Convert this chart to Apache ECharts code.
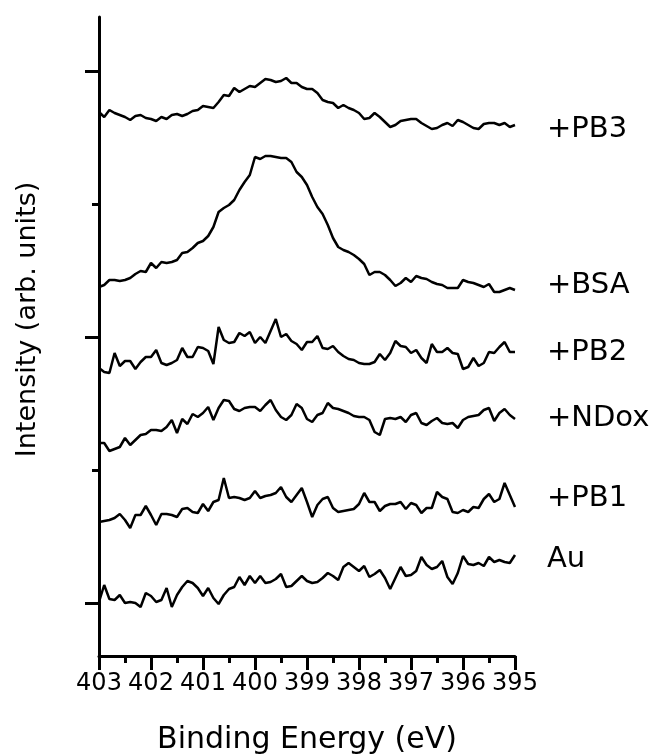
<!DOCTYPE html>
<html>
<head>
<meta charset="utf-8">
<title>N 1s spectra</title>
<script src="https://cdn.jsdelivr.net/npm/echarts@6/dist/echarts.min.js"></script>
<style>
  html, body { margin: 0; padding: 0; background: #fff; }
  #chart { width: 656px; height: 756px; }
</style>
</head>
<body>
<div id="chart"></div>
<script>
// binding energy grid (eV), 0.1 eV step, high -> low
const energy = [
  403.0, 402.9, 402.8, 402.7, 402.6, 402.5, 402.4, 402.3, 402.2, 402.1,
  402.0, 401.9, 401.8, 401.7, 401.6, 401.5, 401.4, 401.3, 401.2, 401.1,
  401.0, 400.9, 400.8, 400.7, 400.6, 400.5, 400.4, 400.3, 400.2, 400.1,
  400.0, 399.9, 399.8, 399.7, 399.6, 399.5, 399.4, 399.3, 399.2, 399.1,
  399.0, 398.9, 398.8, 398.7, 398.6, 398.5, 398.4, 398.3, 398.2, 398.1,
  398.0, 397.9, 397.8, 397.7, 397.6, 397.5, 397.4, 397.3, 397.2, 397.1,
  397.0, 396.9, 396.8, 396.7, 396.6, 396.5, 396.4, 396.3, 396.2, 396.1,
  396.0, 395.9, 395.8, 395.7, 395.6, 395.5, 395.4, 395.3, 395.2, 395.1,
  395.0
];

// intensities (arb. units, already offset as stacked in the figure)
const pb3 = [
  491, 486, 493, 490, 488, 486, 483, 487, 488, 485,
  484, 482, 486, 484, 488, 489, 487, 489, 492, 493,
  497, 496, 495, 501, 508, 507, 515, 511, 514, 517,
  516, 520, 524, 523, 521, 522, 525, 520, 520, 516,
  514, 514, 510, 503, 501, 500, 495, 498, 495, 493,
  490, 484, 485, 490, 486, 481, 476, 478, 482, 483,
  484, 484, 480, 477, 474, 475, 478, 480, 477, 483,
  481, 478, 475, 474, 479, 480, 480, 478, 480, 476,
  478
];
const bsa = [
  316, 318, 323, 323, 322, 323, 325, 329, 332, 331,
  340, 335, 341, 340, 341, 343, 350, 351, 355, 360,
  362, 367, 376, 391, 395, 398, 403, 413, 421, 428,
  446, 444, 447, 447, 446, 445, 445, 441, 431, 426,
  418, 406, 396, 389, 378, 365, 356, 353, 351, 348,
  344, 339, 328, 331, 331, 328, 323, 317, 320, 325,
  321, 327, 325, 324, 321, 319, 318, 315, 315, 315,
  323, 321, 320, 318, 316, 319, 311, 311, 313, 315,
  313
];
const pb2 = [
  235, 231, 230, 250, 237, 242, 242, 234, 241, 246,
  246, 253, 240, 238, 240, 243, 255, 246, 246, 256,
  255, 252, 239, 276, 263, 260, 261, 270, 267, 271,
  260, 266, 260, 272, 284, 266, 269, 262, 259, 253,
  261, 261, 267, 255, 254, 257, 251, 247, 244, 243,
  240, 239, 239, 241, 249, 243, 250, 262, 257, 256,
  250, 253, 245, 240, 259, 251, 251, 255, 250, 249,
  234, 236, 245, 237, 240, 251, 250, 256, 261, 251,
  251
];
const ndox = [
  160, 160, 152, 154, 156, 165, 158, 163, 168, 169,
  173, 173, 172, 176, 183, 170, 184, 179, 189, 186,
  190, 196, 183, 195, 203, 202, 194, 192, 195, 196,
  196, 192, 198, 203, 193, 186, 183, 188, 199, 195,
  184, 181, 188, 190, 200, 195, 194, 192, 190, 187,
  186, 186, 183, 171, 168, 184, 185, 184, 186, 181,
  188, 190, 180, 178, 182, 185, 180, 179, 180, 175,
  183, 186, 187, 188, 193, 195, 182, 190, 194, 188,
  184
];
const pb1 = [
  81, 82, 83, 85, 89, 83, 75, 88, 88, 97,
  88, 78, 89, 89, 88, 86, 94, 95, 91, 90,
  99, 92, 101, 103, 125, 105, 106, 105, 103, 105,
  112, 105, 107, 108, 110, 116, 106, 101, 108, 115,
  101, 86, 98, 104, 106, 95, 91, 92, 93, 94,
  99, 110, 101, 101, 92, 97, 99, 99, 101, 94,
  100, 98, 90, 95, 95, 111, 106, 104, 91, 90,
  93, 91, 96, 95, 104, 109, 101, 104, 120, 108,
  96
];
const au = [
  1, 18, 4, 3, 8, 0, 1, 0, -4, 10,
  7, 1, 3, 15, -4, 8, 16, 22, 20, 15,
  7, 15, 5, -1, 8, 14, 16, 26, 18, 27,
  20, 27, 20, 21, 24, 29, 16, 17, 22, 27,
  22, 20, 21, 25, 30, 27, 23, 36, 40, 36,
  32, 37, 26, 29, 33, 25, 14, 25, 36, 27,
  28, 32, 46, 38, 34, 36, 42, 26, 19, 30,
  47, 39, 38, 40, 37, 46, 41, 43, 41, 40,
  48
];

const sampleNames = ["+PB3", "+BSA", "+PB2", "+NDox", "+PB1", "Au"];
const sampleData = [pb3, bsa, pb2, ndox, pb1, au];
// vertical nudge of each trace label relative to the trace end
const labelShift = [4, -5, 0, -1, -9, 4];

const xTicks = { min: 395, max: 403, step: 1 };
const yMajorTicks = [0, 266, 532];
const yMinorTicks = [133, 399];
const yRange = [-53, 586];

const FONT = "DejaVu Sans";

const chart = echarts.init(document.getElementById("chart"), null, { renderer: "canvas" });

const series = sampleNames.map((name, i) => ({
  name: name,
  type: "line",
  yAxisIndex: 0,
  showSymbol: false,
  animation: false,
  lineStyle: { color: "#000", width: 2.5 },
  data: energy.map((e, j) => [e, sampleData[i][j]]),
  endLabel: {
    show: true,
    formatter: name,
    distance: 0,
    align: "left",
    verticalAlign: "middle",
    offset: [32, labelShift[i]],
    color: "#000",
    fontFamily: FONT,
    fontSize: 29
  }
}));

chart.setOption({
  backgroundColor: "#fff",
  animation: false,
  grid: { left: 99, right: 141, top: 17, bottom: 100, outerBoundsMode: "none", containLabel: false },
  xAxis: {
    type: "value",
    inverse: true,
    min: xTicks.min,
    max: xTicks.max,
    interval: xTicks.step,
    name: "Binding Energy (eV)",
    nameLocation: "middle",
    nameGap: 69,
    nameTextStyle: { color: "#000", fontFamily: FONT, fontSize: 30 },
    axisLine: { show: true, onZero: false, lineStyle: { color: "#000", width: 3 } },
    axisTick: { show: true, inside: false, length: 14, lineStyle: { color: "#000", width: 3 } },
    minorTick: { show: true, splitNumber: 2, length: 7, lineStyle: { color: "#000", width: 3 } },
    axisLabel: { color: "#000", fontFamily: FONT, fontSize: 24, margin: 16 },
    splitLine: { show: false }
  },
  yAxis: [
    {
      type: "value",
      min: yRange[0],
      max: yRange[1],
      name: "Intensity (arb. units)",
      nameLocation: "middle",
      nameGap: 58,
      nameTextStyle: { color: "#000", fontFamily: FONT, fontSize: 27, padding: [0, 0, 0, 34] },
      axisLine: { show: true, onZero: false, lineStyle: { color: "#000", width: 3 } },
      axisTick: { show: true, inside: false, length: 14, customValues: yMajorTicks, lineStyle: { color: "#000", width: 3 } },
      axisLabel: { show: false },
      splitLine: { show: false }
    },
    {
      type: "value",
      position: "left",
      min: yRange[0],
      max: yRange[1],
      axisLine: { show: false, onZero: false },
      axisTick: { show: true, inside: false, length: 7, customValues: yMinorTicks, lineStyle: { color: "#000", width: 3 } },
      axisLabel: { show: false },
      splitLine: { show: false }
    }
  ],
  series: series
});
</script>
</body>
</html>
